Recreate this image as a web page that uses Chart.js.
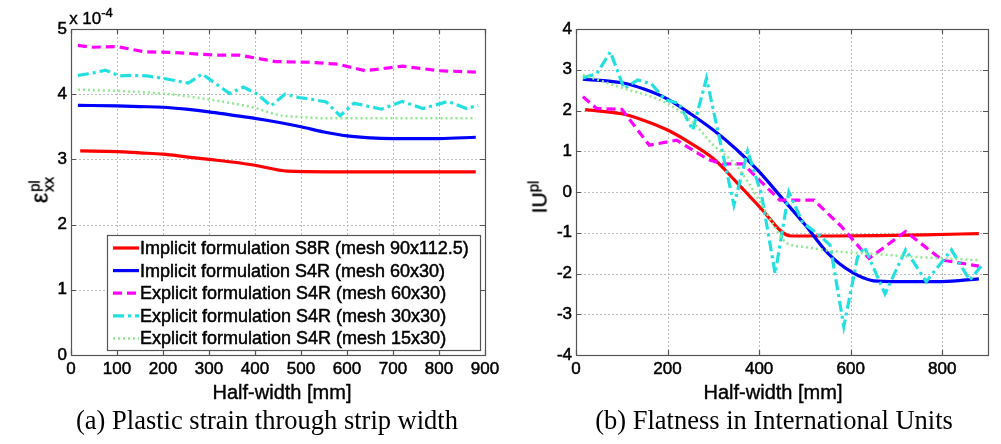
<!DOCTYPE html>
<html>
<head>
<meta charset="utf-8">
<script src="https://cdn.jsdelivr.net/npm/chart.js@4.4.0/dist/chart.umd.min.js"></script>
<style>
  body { margin: 0; width: 1001px; height: 444px; background: #fff; position: relative; overflow: hidden; }
  canvas { position: absolute; top: 0; }
  #strain { left: 0; }
  #flat { left: 500px; }
  .lbl { position: absolute; transform: translate(-50%, -50%); white-space: nowrap; font-family: 'Liberation Sans', Arial, sans-serif; color: #000; -webkit-text-stroke: 0.4px #000; }
  .rot { transform: translate(-50%, -50%) rotate(-90deg); }
  .cap { position: absolute; transform: translate(-50%, -50%); white-space: nowrap; font-family: 'Liberation Serif', 'Times New Roman', serif; font-size: 26.5px; color: #000; }
  .stack { display: inline-flex; flex-direction: column; font-size: 15px; line-height: 14px; vertical-align: middle; margin-left: 1px; }
</style>
</head>
<body>
<canvas id="strain" width="505" height="410"></canvas>
<canvas id="flat" width="501" height="410"></canvas>

<div class="lbl" style="left:91px; top:17px; font-size:17px;">x 10<sup style="font-size:13px">-4</sup></div>
<div class="lbl rot" style="left:41px; top:190px; font-size:23px;">ε<span class="stack"><span>pl</span><span>xx</span></span></div>
<div class="lbl rot" style="left:538px; top:197px; font-size:21px;">IU<sup style="font-size:15px">pl</sup></div>
<div class="lbl" style="left:282px; top:392px; font-size:20px;">Half-width [mm]</div>
<div class="lbl" style="left:773px; top:392px; font-size:20px;">Half-width [mm]</div>
<div class="cap" style="left:267px; top:420px;">(a) Plastic strain through strip width</div>
<div class="cap" style="left:774px; top:420px;">(b) Flatness in International Units</div>

<script>
// series names
const seriesNames = [
  'Implicit formulation S8R (mesh 90x112.5)',
  'Implicit formulation S4R (mesh 60x30)',
  'Explicit formulation S4R (mesh 60x30)',
  'Explicit formulation S4R (mesh 30x30)',
  'Explicit formulation S4R (mesh 15x30)'
];

// half-width positions [mm] for each series
const xS8R = [20, 100, 150, 200, 250, 300, 350, 400, 470, 560, 660, 760, 880];
const xS4R = [15, 100, 150, 200, 250, 300, 350, 400, 450, 500, 550, 600, 650, 700, 800, 880];
const x60 = [15, 45, 100, 160, 220, 290, 320, 365, 445, 520, 580, 640, 720, 800, 880];
const x30 = [15, 45, 75, 105, 135, 165, 195, 225, 255, 285, 345, 375, 405, 435, 465, 495, 525, 555, 585, 615, 630, 675, 720, 765, 820, 860, 885];
const x15 = [15, 100, 200, 250, 300, 350, 400, 430, 460, 500, 560, 650, 750, 880];

// (a) plastic strain, in units of 1e-4
const strainS8R = [3.13, 3.12, 3.10, 3.08, 3.04, 3.00, 2.96, 2.91, 2.82, 2.81, 2.81, 2.81, 2.81];
const strainS4R = [3.83, 3.82, 3.81, 3.80, 3.77, 3.73, 3.68, 3.63, 3.57, 3.50, 3.42, 3.36, 3.33, 3.32, 3.32, 3.34];
const strain60 = [4.75, 4.72, 4.73, 4.65, 4.64, 4.61, 4.60, 4.60, 4.50, 4.49, 4.46, 4.36, 4.43, 4.36, 4.34];
const strain30 = [4.29, 4.32, 4.37, 4.28, 4.29, 4.28, 4.25, 4.21, 4.17, 4.31, 4.01, 4.11, 4.00, 3.82, 4.00, 3.95, 3.92, 3.88, 3.67, 3.86, 3.84, 3.77, 3.89, 3.78, 3.89, 3.78, 3.83];
const strain15 = [4.07, 4.05, 4.01, 3.97, 3.92, 3.86, 3.79, 3.72, 3.67, 3.65, 3.63, 3.63, 3.63, 3.63];

// (b) flatness, I-units
const flatS8R = [2.02, 1.92, 1.75, 1.52, 1.20, 0.82, 0.25, -0.35, -1.08, -1.08, -1.07, -1.05, -1.02];
const flatS4R = [2.77, 2.68, 2.52, 2.28, 1.92, 1.52, 1.05, 0.50, -0.15, -0.80, -1.50, -1.95, -2.18, -2.20, -2.20, -2.13];
const flat60 = [2.34, 2.05, 2.03, 1.15, 1.27, 0.79, 0.69, 0.69, -0.20, -0.20, -0.85, -1.63, -0.97, -1.67, -1.82];
const flat30 = [2.80, 2.90, 3.44, 2.54, 2.75, 2.65, 2.26, 2.18, 1.52, 2.79, -0.32, 1.00, -0.05, -2.00, 0.00, -0.75, -1.00, -1.30, -3.30, -1.60, -1.35, -2.50, -1.42, -2.20, -1.42, -2.16, -1.82];
const flat15 = [2.87, 2.56, 2.17, 1.77, 1.15, 0.65, -0.20, -0.78, -1.25, -1.35, -1.45, -1.52, -1.60, -1.67];

const xs = [xS8R, xS4R, x60, x30, x15];
const styles = [
  { color: '#ff0000', width: 3.2, dash: [], smooth: true },
  { color: '#0000ff', width: 3.2, dash: [], smooth: true },
  { color: '#ff00ff', width: 3.2, dash: [9, 5], smooth: false },
  { color: '#22e0e0', width: 3.2, dash: [11, 4, 3, 4], smooth: false },
  { color: '#8fe88f', width: 2.5, dash: [2, 3], smooth: true }
];

const pts = (x, y) => x.map((v, i) => ({ x: v, y: y[i] }));
const tickFont = { family: 'Liberation Sans', size: 17 };

// matlab-like frame: dotted grid, box, inward ticks, legend
const matlabAxes = {
  id: 'matlabAxes',
  beforeDatasetsDraw(chart) {
    const { ctx, chartArea: a, scales } = chart;
    ctx.save();
    ctx.strokeStyle = '#bdbdbd';
    ctx.lineWidth = 1;
    ctx.setLineDash([2, 2]);
    scales.x.ticks.forEach(t => {
      const px = Math.round(scales.x.getPixelForValue(t.value)) + 0.5;
      if (px < a.left + 2 || px > a.right - 2) return;
      ctx.beginPath(); ctx.moveTo(px, a.top); ctx.lineTo(px, a.bottom); ctx.stroke();
    });
    scales.y.ticks.forEach(t => {
      const py = Math.round(scales.y.getPixelForValue(t.value)) + 0.5;
      if (py < a.top + 2 || py > a.bottom - 2) return;
      ctx.beginPath(); ctx.moveTo(a.left, py); ctx.lineTo(a.right, py); ctx.stroke();
    });
    ctx.restore();
  },
  afterDatasetsDraw(chart, args, opts) {
    const { ctx, chartArea: a, scales } = chart;
    ctx.save();
    ctx.strokeStyle = '#555';
    ctx.lineWidth = 1.2;
    ctx.strokeRect(Math.round(a.left) + 0.5, Math.round(a.top) + 0.5, Math.round(a.width), Math.round(a.height));
    ctx.beginPath();
    scales.x.ticks.forEach(t => {
      const px = Math.round(scales.x.getPixelForValue(t.value)) + 0.5;
      ctx.moveTo(px, a.bottom); ctx.lineTo(px, a.bottom - 5);
      ctx.moveTo(px, a.top); ctx.lineTo(px, a.top + 5);
    });
    scales.y.ticks.forEach(t => {
      const py = Math.round(scales.y.getPixelForValue(t.value)) + 0.5;
      ctx.moveTo(a.left, py); ctx.lineTo(a.left + 5, py);
      ctx.moveTo(a.right, py); ctx.lineTo(a.right - 5, py);
    });
    ctx.stroke();

    if (opts.legend) {
      const L = opts.legend;
      ctx.fillStyle = '#fff';
      ctx.fillRect(L.x, L.y, L.w, L.h);
      ctx.strokeStyle = '#555';
      ctx.lineWidth = 1.2;
      ctx.strokeRect(L.x + 0.5, L.y + 0.5, L.w, L.h);
      ctx.font = '18px "Liberation Sans", Arial, sans-serif';
      ctx.textBaseline = 'middle';
      chart.data.datasets.forEach((ds, i) => {
        const y = L.y + 13 + i * 22.6;
        ctx.strokeStyle = ds.borderColor;
        ctx.lineWidth = ds.borderWidth;
        ctx.setLineDash(ds.borderDash);
        ctx.beginPath(); ctx.moveTo(L.x + 6, y); ctx.lineTo(L.x + 32, y); ctx.stroke();
        ctx.setLineDash([]);
        ctx.fillStyle = '#000';
        ctx.strokeStyle = '#000';
        ctx.lineWidth = 0.5;
        ctx.fillText(ds.label, L.x + 33, y + 1);
        ctx.strokeText(ds.label, L.x + 33, y + 1);
      });
    }
    ctx.restore();
  }
};

function makeChart(id, ys, o) {
  return new Chart(document.getElementById(id), {
    type: 'line',
    data: {
      datasets: ys.map((y, i) => ({
        label: seriesNames[i],
        data: pts(xs[i], y),
        borderColor: styles[i].color,
        borderWidth: styles[i].width,
        borderDash: styles[i].dash,
        cubicInterpolationMode: styles[i].smooth ? 'monotone' : 'default',
        tension: 0,
        pointRadius: 0,
        fill: false,
        order: 4 - i
      }))
    },
    options: {
      responsive: false,
      animation: false,
      events: [],
      layout: { padding: { top: 29, right: o.right, left: 0, bottom: 0 } },
      plugins: { legend: { display: false }, tooltip: { enabled: false }, matlabAxes: { legend: o.legend } },
      scales: {
        x: {
          type: 'linear', min: 0, max: 900,
          grid: { display: false, drawTicks: false }, border: { display: false },
          ticks: { stepSize: o.xStep, includeBounds: false, padding: 4, color: '#000', maxRotation: 0,
                   textStrokeColor: '#000', textStrokeWidth: 0.5, font: tickFont },
          afterFit: s => { s.height = 55; }
        },
        y: {
          min: o.yMin, max: o.yMax,
          grid: { display: false, drawTicks: false }, border: { display: false },
          ticks: { stepSize: 1, padding: 4, color: '#000', textStrokeColor: '#000', textStrokeWidth: 0.5, font: tickFont },
          afterFit: s => { s.width = o.yWidth; }
        }
      }
    },
    plugins: [matlabAxes]
  });
}

makeChart('strain', [strainS8R, strainS4R, strain60, strain30, strain15],
  { right: 20, yWidth: 71, xStep: 100, yMin: 0, yMax: 5,
    legend: { x: 107, y: 235, w: 373, h: 115 } });
makeChart('flat', [flatS8R, flatS4R, flat60, flat30, flat15],
  { right: 13, yWidth: 76, xStep: 200, yMin: -4, yMax: 4, legend: null });
</script>
</body>
</html>
